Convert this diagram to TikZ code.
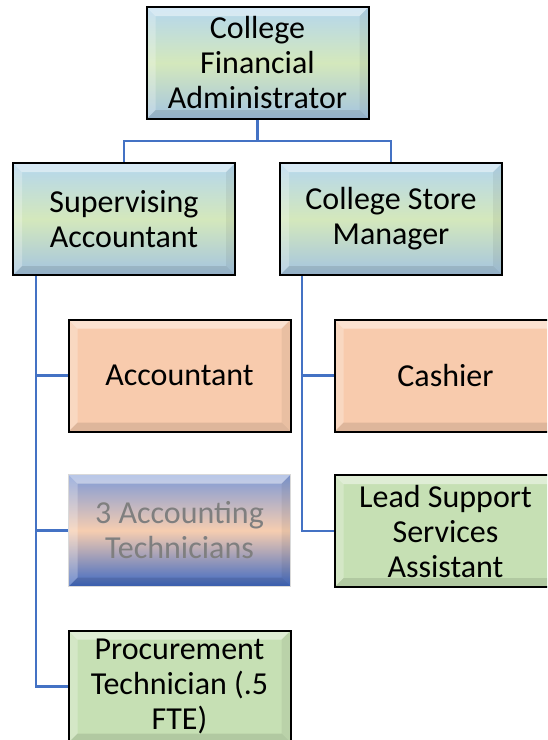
\documentclass[tikz,border=0pt]{standalone}
\usepackage{fontspec}
\setmainfont{Carlito}
\usetikzlibrary{backgrounds}
\definecolor{conn}{HTML}{4472C4}
\definecolor{bluetop}{HTML}{B4D6EE}
\definecolor{greenmid}{HTML}{D4E8BC}
\definecolor{bluebot}{HTML}{A4C4E0}
\definecolor{peach}{HTML}{F8CBAD}
\definecolor{lgreen}{HTML}{C6E0B4}
\definecolor{techtop}{HTML}{7F9AD6}
\definecolor{techmid}{HTML}{F6CDB0}
\definecolor{techbot}{HTML}{3F69C2}
\definecolor{graytext}{HTML}{7F7F7F}
\tikzset{
  bevel/.style={path picture={
    \fill[white,opacity=0.45] (path picture bounding box.north west) -- (path picture bounding box.north east)
      -- ([xshift=-9pt,yshift=-9pt]path picture bounding box.north east) -- ([xshift=9pt,yshift=-9pt]path picture bounding box.north west) -- cycle;
    \fill[white,opacity=0.25] (path picture bounding box.north west) -- ([xshift=9pt,yshift=-9pt]path picture bounding box.north west)
      -- ([xshift=9pt,yshift=9pt]path picture bounding box.south west) -- (path picture bounding box.south west) -- cycle;
    \fill[black,opacity=0.06] (path picture bounding box.north east) -- ([xshift=-9pt,yshift=-9pt]path picture bounding box.north east)
      -- ([xshift=-9pt,yshift=9pt]path picture bounding box.south east) -- (path picture bounding box.south east) -- cycle;
    \fill[black,opacity=0.10] (path picture bounding box.south west) -- ([xshift=9pt,yshift=9pt]path picture bounding box.south west)
      -- ([xshift=-9pt,yshift=9pt]path picture bounding box.south east) -- (path picture bounding box.south east) -- cycle;
  }},
  orgbox/.style={draw=black, line width=2pt, minimum width=222pt, minimum height=112pt,
    inner sep=0pt, align=center, font=\fontsize{32}{35}\selectfont, bevel},
  mgrbox/.style={orgbox, top color=bluetop, bottom color=bluebot, middle color=greenmid},
  peachbox/.style={orgbox, fill=peach},
  greenbox/.style={orgbox, fill=lgreen},
  techbox/.style={orgbox, draw=white!85!black, line width=1pt, top color=techtop, bottom color=techbot, middle color=techmid, text=graytext},
  link/.style={draw=conn, line width=2.5pt},
}
\begin{document}
\begin{tikzpicture}[x=1pt,y=-1pt]
\useasboundingbox (0,0) rectangle (547,740);
\clip (0,0) rectangle (547,740);
\node[mgrbox] (top) at (257.5,63) {College\\Financial\\Administrator};
\node[mgrbox] (sup) at (124,219) {Supervising\\Accountant};
\node[mgrbox] (store) at (391,219) {College Store\\Manager};
\node[peachbox] (acc) at (179.5,375.5) {Accountant};
\node[peachbox] (cash) at (445.5,375.5) {Cashier};
\node[techbox] (tech) at (179.5,530.5) {3 Accounting\\Technicians};
\node[greenbox] (lead) at (445.5,531) {Lead Support\\Services\\Assistant};
\node[greenbox] (proc) at (179.5,686.5) {Procurement\\Technician (.5\\FTE)};
\coordinate (bus) at (257.5,141);
\coordinate (ltop) at (36,275);
\coordinate (rtop) at (302,275);
\begin{scope}[on background layer]
\draw[link] (top.south) -- (bus) -| (sup.north);
\draw[link] (bus) -| (store.north);
\draw[link] (ltop) |- (acc.west);
\draw[link] (ltop) |- (tech.west);
\draw[link] (ltop) |- (proc.west);
\draw[link] (rtop) |- (cash.west);
\draw[link] (rtop) |- (lead.west);
\end{scope}
\end{tikzpicture}
\end{document}
